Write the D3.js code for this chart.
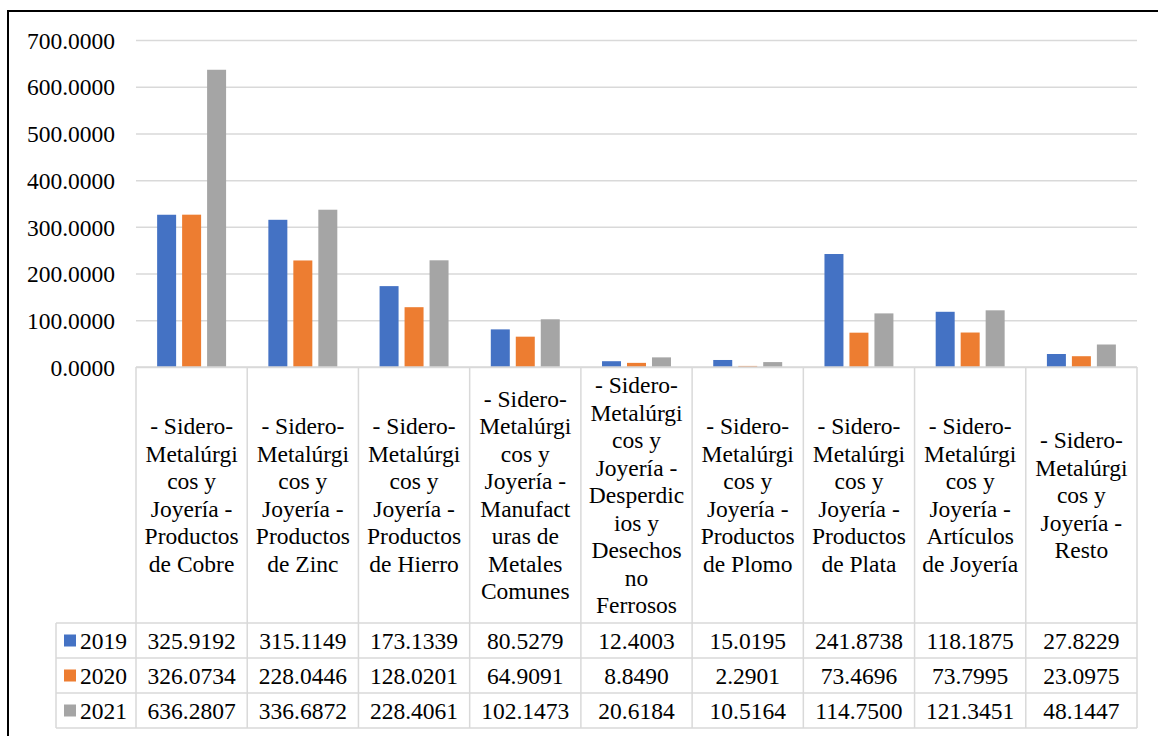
<!DOCTYPE html>
<html lang="es">
<head>
    <meta charset="utf-8">
    <title>Sidero-Metalúrgicos y Joyería</title>
    <script src="https://cdn.jsdelivr.net/npm/d3@7"></script>
</head>
<style>
    body { margin: 0; background: #fff; }
    svg { display: block; }
    text { font-family: 'Liberation Serif', 'Times New Roman', serif; font-size: 23.5px; fill: #000; }
    .grid line { stroke: #d9d9d9; stroke-width: 1.5px; }
    .tbl line { stroke: #d9d9d9; stroke-width: 1.5px; }
</style>
<body>
<script type="text/javascript">

    // categorías, ya partidas en líneas como en la tabla original
    var categories = [
        ['- Sidero-', 'Metalúrgi', 'cos y', 'Joyería -', 'Productos', 'de Cobre'],
        ['- Sidero-', 'Metalúrgi', 'cos y', 'Joyería -', 'Productos', 'de Zinc'],
        ['- Sidero-', 'Metalúrgi', 'cos y', 'Joyería -', 'Productos', 'de Hierro'],
        ['- Sidero-', 'Metalúrgi', 'cos y', 'Joyería -', 'Manufact', 'uras de', 'Metales', 'Comunes'],
        ['- Sidero-', 'Metalúrgi', 'cos y', 'Joyería -', 'Desperdic', 'ios y', 'Desechos', 'no', 'Ferrosos'],
        ['- Sidero-', 'Metalúrgi', 'cos y', 'Joyería -', 'Productos', 'de Plomo'],
        ['- Sidero-', 'Metalúrgi', 'cos y', 'Joyería -', 'Productos', 'de Plata'],
        ['- Sidero-', 'Metalúrgi', 'cos y', 'Joyería -', 'Artículos', 'de Joyería'],
        ['- Sidero-', 'Metalúrgi', 'cos y', 'Joyería -', 'Resto']
    ];

    var years = ['2019', '2020', '2021'];
    var v2019 = [325.9192, 315.1149, 173.1339, 80.5279, 12.4003, 15.0195, 241.8738, 118.1875, 27.8229];
    var v2020 = [326.0734, 228.0446, 128.0201, 64.9091, 8.8490, 2.2901, 73.4696, 73.7995, 23.0975];
    var v2021 = [636.2807, 336.6872, 228.4061, 102.1473, 20.6184, 10.5164, 114.7500, 121.3451, 48.1447];
    var yTicks = [0, 100, 200, 300, 400, 500, 600, 700];

    var series = [v2019, v2020, v2021];
    var colorList = ['#4472c4', '#ed7d31', '#a5a5a5'];

    var width = 1158, height = 736;
    var plotLeft = 136, plotRight = 1137, plotTop = 40, axisY = 367;
    var headBottom = 623, rowH = 35, legendLeft = 56;
    var lineH = 27.5;

    var svg = d3.select('body').append('svg')
        .attr('width', width)
        .attr('height', height);

    var x0 = d3.scaleBand()
        .domain(d3.range(categories.length))
        .range([plotLeft, plotRight])
        .paddingInner(0)
        .paddingOuter(0);

    var groupW = x0.bandwidth() * 0.62;
    var x1 = d3.scaleBand()
        .domain(years)
        .range([0, groupW])
        .paddingInner(0.24)
        .paddingOuter(0);

    var yScale = d3.scaleLinear()
        .domain([0, 700])
        .range([axisY, plotTop]);

    // gridlines + etiquetas del eje
    var yAxis = d3.axisLeft(yScale)
        .tickValues(yTicks)
        .tickSize(-(plotRight - plotLeft))
        .tickPadding(21)
        .tickFormat(function(d) { return d.toFixed(4); });

    var gAxis = svg.append('g')
        .attr('class', 'grid')
        .attr('transform', 'translate(' + plotLeft + ',0)')
        .call(yAxis);
    gAxis.select('.domain').remove();
    gAxis.selectAll('text')
        .attr('dy', '0.35em')
        .style('font-size', '23.5px')
        .style('font-family', "'Liberation Serif', 'Times New Roman', serif")
        .attr('fill', '#000');

    // barras
    var groups = svg.append('g').selectAll('g')
        .data(categories)
        .enter()
        .append('g')
        .attr('transform', function(d, i) {
            return 'translate(' + (x0(i) + (x0.bandwidth() - groupW) / 2) + ',0)';
        });

    groups.selectAll('rect')
        .data(function(d, i) {
            return series.map(function(s, k) { return {year: years[k], value: s[i], k: k}; });
        })
        .enter()
        .append('rect')
        .attr('x', function(d) { return x1(d.year); })
        .attr('width', x1.bandwidth())
        .attr('y', function(d) { return yScale(d.value); })
        .attr('height', function(d) { return axisY - yScale(d.value); })
        .attr('fill', function(d) { return colorList[d.k]; });

    // tabla de datos
    var tbl = svg.append('g').attr('class', 'tbl');
    var tableBottom = headBottom + rowH * years.length;

    tbl.append('line')
        .attr('x1', plotLeft).attr('x2', plotRight)
        .attr('y1', axisY).attr('y2', axisY);

    d3.range(categories.length + 1).forEach(function(i) {
        var xx = i < categories.length ? x0(i) : plotRight;
        tbl.append('line')
            .attr('x1', xx).attr('x2', xx)
            .attr('y1', axisY).attr('y2', tableBottom);
    });

    d3.range(years.length + 1).forEach(function(r) {
        var yy = headBottom + rowH * r;
        tbl.append('line')
            .attr('x1', legendLeft).attr('x2', plotRight)
            .attr('y1', yy).attr('y2', yy);
    });
    tbl.append('line')
        .attr('x1', legendLeft).attr('x2', legendLeft)
        .attr('y1', headBottom).attr('y2', tableBottom);

    // encabezados de categoría
    svg.append('g').selectAll('text')
        .data(categories)
        .enter()
        .append('text')
        .attr('text-anchor', 'middle')
        .each(function(lines, i) {
            var cx = x0(i) + x0.bandwidth() / 2;
            var cy = (axisY + headBottom) / 2 - (lines.length - 1) * lineH / 2;
            d3.select(this).selectAll('tspan')
                .data(lines)
                .enter()
                .append('tspan')
                .attr('x', cx)
                .attr('y', function(d, j) { return cy + j * lineH; })
                .attr('dy', '0.35em')
                .text(function(d) { return d; });
        });

    // filas de valores
    years.forEach(function(yr, r) {
        var cy = headBottom + rowH * r + rowH / 2;
        svg.append('rect')
            .attr('x', 64)
            .attr('y', cy - 6)
            .attr('width', 12)
            .attr('height', 12)
            .attr('fill', colorList[r]);
        svg.append('text')
            .attr('x', 80)
            .attr('y', cy)
            .attr('dy', '0.35em')
            .text(yr);
        svg.append('g').selectAll('text')
            .data(series[r])
            .enter()
            .append('text')
            .attr('x', function(d, i) { return x0(i) + x0.bandwidth() / 2; })
            .attr('y', cy)
            .attr('dy', '0.35em')
            .attr('text-anchor', 'middle')
            .text(function(d) { return d.toFixed(4); });
    });

    // marco exterior
    svg.append('rect')
        .attr('x', 8)
        .attr('y', 11)
        .attr('width', width)
        .attr('height', height)
        .style('fill', 'none')
        .style('stroke', '#000')
        .style('stroke-width', 2);

</script>
</body>
</html>
